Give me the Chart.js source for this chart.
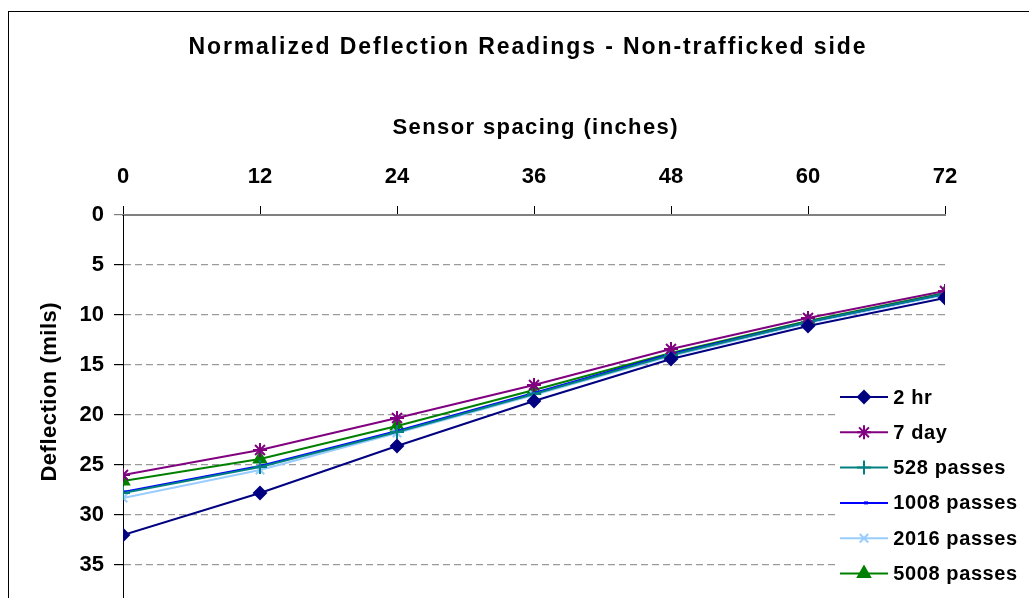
<!DOCTYPE html>
<html>
<head>
<meta charset="utf-8">
<script src="https://cdn.jsdelivr.net/npm/chart.js@4.4.0/dist/chart.umd.min.js"></script>
<style>
  html, body { margin: 0; padding: 0; background: #fff; overflow: hidden; }
  #wrap { position: relative; width: 1029px; height: 640px; }
  #frame { position: absolute; left: 8px; top: 11px; width: 1040px; height: 700px; border: 1px solid #000; pointer-events: none; }
  canvas { position: absolute; left: 0; top: 0; }
</style>
</head>
<body>
<div id="wrap">
  <canvas id="myChart" width="1029" height="640"></canvas>
  <div id="frame"></div>
</div>
<script>
let spacing = [0, 12, 24, 36, 48, 60, 72];
let seriesNames = ['2 hr', '7 day', '528 passes', '1008 passes', '2016 passes', '5008 passes'];
let hr2      = [32.0, 27.8, 23.1, 18.6, 14.4, 11.1, 8.3];
let day7     = [26.0, 23.5, 20.3, 17.0, 13.4, 10.3, 7.6];
let pass528  = [27.8, 25.2, 21.7, 17.9, 14.0, 10.7, 7.9];
let pass1008 = [27.7, 25.1, 21.6, 17.8, 13.9, 10.7, 7.9];
let pass2016 = [28.3, 25.5, 21.8, 18.0, 14.1, 10.8, 8.0];
let pass5008 = [26.6, 24.4, 21.1, 17.5, 13.8, 10.6, 7.8];

let colors = ['#000080', '#800080', '#008080', '#0000FF', '#99CCFF', '#008000'];
let styles = ['rectRot', 'star', 'cross', 'dash', 'crossRot', 'triangle'];
let radii  = [6, 7, 7, 4, 6, 7];
let allValues = [hr2, day7, pass528, pass1008, pass2016, pass5008];

const FONT = '"Liberation Sans", Arial, sans-serif';

let datasets = allValues.map((vals, i) => ({
  label: seriesNames[i],
  data: vals.map((v, j) => ({x: spacing[j], y: v})),
  borderColor: colors[i],
  backgroundColor: colors[i],
  borderWidth: 2,
  pointStyle: styles[i],
  pointRadius: radii[i],
  pointBorderWidth: styles[i] == 'dash' ? 3 : 2,
  pointHoverRadius: radii[i],
  tension: 0
}));

function spacedText(c, text, x, y, gap) {
  c.letterSpacing = gap + 'px';
  c.fillText(text, x + gap / 2, y);
  c.letterSpacing = '0px';
}

// titles and the boxed legend are painted by hand
let extras = {
  id: 'extras',
  afterDraw(chart) {
    let c = chart.ctx;
    c.save();
    c.fillStyle = '#000';
    c.textAlign = 'center';
    c.textBaseline = 'middle';
    c.font = 'bold 23px ' + FONT;
    spacedText(c, 'Normalized Deflection Readings - Non-trafficked side', 527, 48, 1.9);
    c.font = 'bold 22px ' + FONT;
    spacedText(c, 'Sensor spacing (inches)', 535, 128, 1.4);

    c.save();
    c.translate(50, 392);
    c.rotate(-Math.PI / 2);
    spacedText(c, 'Deflection (mils)', 0, 0, 0.5);
    c.restore();

    // legend
    c.fillStyle = '#fff';
    c.fillRect(836, 378, 193, 262);
    c.font = 'bold 20px ' + FONT;
    c.textAlign = 'left';
    chart.data.datasets.forEach((ds, i) => {
      let y = 397 + i * 35.3;
      c.strokeStyle = ds.borderColor;
      c.fillStyle = ds.backgroundColor;
      c.lineWidth = 2;
      c.beginPath();
      c.moveTo(840, y);
      c.lineTo(888, y);
      c.stroke();
      c.lineWidth = ds.pointBorderWidth;
      Chart.helpers.drawPoint(c, {
        pointStyle: ds.pointStyle,
        radius: ds.pointRadius,
        borderWidth: ds.pointBorderWidth,
        rotation: 0
      }, 864, y);
      c.fillStyle = '#000';
      spacedText(c, ds.label, 893, y + 1, 0.6);
    });
    c.restore();
  }
};

let ctx = document.getElementById('myChart').getContext('2d');
let myChart = new Chart(ctx, {
  type: 'line',
  data: { datasets: datasets },
  options: {
    responsive: false,
    animation: false,
    devicePixelRatio: 1,
    layout: { padding: { left: 0, top: 0, right: 84, bottom: 25 } },
    plugins: {
      legend: { display: false },
      title: { display: false },
      tooltip: { enabled: false }
    },
    scales: {
      x: {
        type: 'linear',
        position: 'top',
        min: 0,
        max: 72,
        afterFit: (s) => { s.height = 215; },
        ticks: {
          stepSize: 12,
          color: '#000',
          padding: 16,
          maxRotation: 0,
          font: { family: FONT, size: 22, weight: 'bold' }
        },
        grid: {
          drawOnChartArea: false,
          tickLength: 9,
          color: '#000',
          lineWidth: 1
        },
        border: { color: '#808080', width: 2 }
      },
      y: {
        reverse: true,
        min: 0,
        max: 40,
        afterFit: (s) => { s.width = 123; },
        ticks: {
          stepSize: 5,
          color: '#000',
          padding: 10,
          font: { family: FONT, size: 22, weight: 'bold' }
        },
        grid: {
          color: (c) => c.tick && c.tick.value === 0 ? 'rgba(0,0,0,0)' : '#9a9a9a',
          tickColor: (c) => c.tick && c.tick.value === 0 ? '#808080' : '#000',
          tickLength: 9,
          lineWidth: 1.2,
          tickBorderDash: []
        },
        border: { color: '#000', width: 1, dash: [7, 4] }
      }
    }
  },
  plugins: [extras]
});
</script>
</body>
</html>
